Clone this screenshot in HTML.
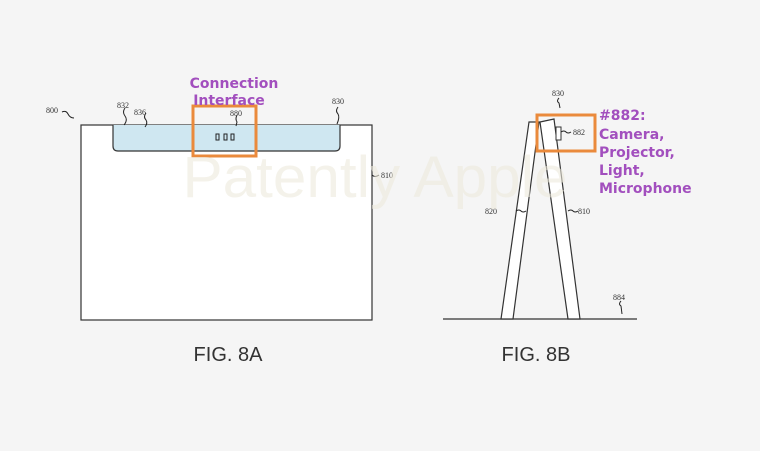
<!DOCTYPE html>
<html><head><style>body{margin:0;background:#f5f5f5;}svg{display:block}</style></head><body>
<svg width="760" height="451" viewBox="0 0 760 451" xmlns="http://www.w3.org/2000/svg">
<rect width="760" height="451" fill="#f5f5f5"/>
<!-- FIG 8A -->
<rect x="81" y="125" width="291" height="195" fill="#fff" stroke="#333" stroke-width="1.2"/>
<path d="M113 125 V146 Q113 151 118 151 H335 Q340 151 340 146 V125" fill="#cfe7f1" stroke="#333" stroke-width="1.2"/>
<g fill="none" stroke="#222" stroke-width="1">
<rect x="216" y="134" width="3" height="6"/><rect x="224" y="134" width="3" height="6"/><rect x="231" y="134" width="3" height="6"/>
<path d="M125 108 q-3 4 0 8 q3 4 -1 9"/><path d="M146 113 q-3 4 0 7 q2 3 -1 7"/>
<path d="M237 115 q-2 4 0 7 l-1 4"/><path d="M338 107 q-3 4 0 7 q2 3 -1 10"/>
<path d="M62 112 q4 -2 6 2 q2 4 6 4"/><path d="M372 175 q3 3 7 0"/>
</g>
<g font-family="Liberation Serif,serif" font-size="8" fill="#333">
<text x="46" y="113">800</text><text x="117" y="108">832</text><text x="134" y="115">836</text>
<text x="230" y="116">880</text><text x="332" y="104">830</text><text x="381" y="178">810</text>
</g>
<rect x="193" y="106" width="63" height="50" fill="none" stroke="#ea8a3c" stroke-width="3"/>
<text x="234" y="88" text-anchor="middle" font-family="DejaVu Sans,sans-serif" font-weight="bold" font-size="14" fill="#a24fbe">Connection</text>
<text x="229" y="105" text-anchor="middle" font-family="DejaVu Sans,sans-serif" font-weight="bold" font-size="14" fill="#a24fbe">Interface</text>
<text x="228" y="361" text-anchor="middle" font-family="Liberation Sans,sans-serif" font-size="20" fill="#333">FIG. 8A</text>
<!-- FIG 8B -->
<line x1="443" y1="319" x2="637" y2="319" stroke="#333" stroke-width="1.3"/>
<polygon points="529,122 539,122 513,319 501,319" fill="#fff" stroke="#333" stroke-width="1.2"/>
<polygon points="540,122 554,119 580,319 568,319" fill="#fff" stroke="#333" stroke-width="1.2"/>
<rect x="556" y="127" width="5" height="13" fill="#fff" stroke="#333"/>
<g fill="none" stroke="#222" stroke-width="1">
<path d="M561 132 q3 -2 5 0 q2 2 5 0"/><path d="M516 211 q3 -2 5 0 q2 2 5 0"/><path d="M568 211 q3 -2 5 0 q2 2 5 0"/>
<path d="M559 98 q-3 3 0 5 l1 5"/><path d="M621 301 q-3 3 0 5 l1 8"/>
</g>
<g font-family="Liberation Serif,serif" font-size="8" fill="#333">
<text x="552" y="96">830</text><text x="573" y="135">882</text><text x="485" y="214">820</text>
<text x="578" y="214">810</text><text x="613" y="300">884</text>
</g>
<rect x="537" y="115" width="58" height="36" fill="none" stroke="#ea8a3c" stroke-width="3"/>
<g font-family="DejaVu Sans,sans-serif" font-weight="bold" font-size="14" fill="#a24fbe">
<text x="599" y="120">#882:</text><text x="599" y="139">Camera,</text><text x="599" y="157">Projector,</text>
<text x="599" y="175">Light,</text><text x="599" y="193">Microphone</text>
</g>
<text x="375" y="197" text-anchor="middle" font-family="Liberation Sans,sans-serif" font-size="58" fill="#ece9dc" fill-opacity="0.6" textLength="385" lengthAdjust="spacingAndGlyphs">Patently Apple</text>
<text x="536" y="361" text-anchor="middle" font-family="Liberation Sans,sans-serif" font-size="20" fill="#333">FIG. 8B</text>
</svg>
</body></html>
